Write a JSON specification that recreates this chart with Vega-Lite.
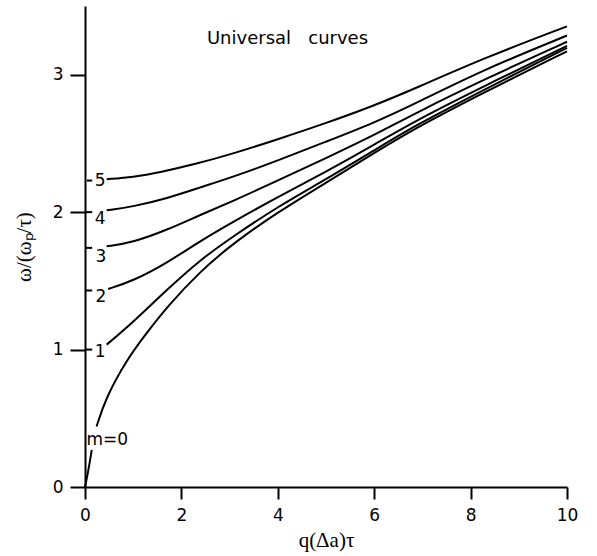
{
  "$schema": "https://vega.github.io/schema/vega-lite/v6.json",
  "width": 482,
  "height": 481,
  "autosize": {"type": "none"},
  "padding": {"left": 85, "top": 6, "right": 30, "bottom": 69},
  "background": "white",
  "config": {
    "view": {"stroke": null},
    "axis": {
      "grid": false,
      "labelFlush": false,
      "domainColor": "black",
      "domainWidth": 2,
      "tickColor": "black",
      "tickWidth": 2,
      "labelColor": "black",
      "labelFont": "DejaVu Sans",
      "labelFontSize": 17,
      "titleFont": "Liberation Serif",
      "titleFontSize": 21,
      "titleFontWeight": "normal",
      "titleColor": "black"
    }
  },
  "datasets": {
    "curves": [
      {"seg": "m0a", "x": 0, "y": 0},
      {"seg": "m0a", "x": 0.06, "y": 0.1},
      {"seg": "m0a", "x": 0.14, "y": 0.27},
      {"seg": "m0b", "x": 0.24, "y": 0.44},
      {"seg": "m0b", "x": 0.42, "y": 0.64},
      {"seg": "m0b", "x": 0.87, "y": 0.93},
      {"seg": "m0b", "x": 1.3, "y": 1.13},
      {"seg": "m0b", "x": 1.7, "y": 1.31},
      {"seg": "m0b", "x": 2.39, "y": 1.57},
      {"seg": "m0b", "x": 3.1, "y": 1.78},
      {"seg": "m0b", "x": 4.0, "y": 2.0},
      {"seg": "m0b", "x": 4.98, "y": 2.21},
      {"seg": "m0b", "x": 6.0, "y": 2.43},
      {"seg": "m0b", "x": 6.85, "y": 2.61},
      {"seg": "m0b", "x": 8.27, "y": 2.87},
      {"seg": "m0b", "x": 10, "y": 3.17},
      {"seg": "m1", "x": 0.45, "y": 1.036},
      {"seg": "m1", "x": 1.0, "y": 1.2},
      {"seg": "m1", "x": 1.7, "y": 1.436},
      {"seg": "m1", "x": 2.39, "y": 1.654},
      {"seg": "m1", "x": 3.1, "y": 1.83},
      {"seg": "m1", "x": 4.0, "y": 2.04},
      {"seg": "m1", "x": 4.98, "y": 2.235},
      {"seg": "m1", "x": 6.0, "y": 2.45},
      {"seg": "m1", "x": 6.85, "y": 2.63},
      {"seg": "m1", "x": 8.27, "y": 2.89},
      {"seg": "m1", "x": 10, "y": 3.195},
      {"seg": "m2", "x": 0.48, "y": 1.441},
      {"seg": "m2", "x": 1.0, "y": 1.5},
      {"seg": "m2", "x": 1.7, "y": 1.63},
      {"seg": "m2", "x": 2.39, "y": 1.79},
      {"seg": "m2", "x": 3.1, "y": 1.935},
      {"seg": "m2", "x": 4.0, "y": 2.11},
      {"seg": "m2", "x": 4.98, "y": 2.29},
      {"seg": "m2", "x": 6.0, "y": 2.49},
      {"seg": "m2", "x": 6.85, "y": 2.665},
      {"seg": "m2", "x": 8.27, "y": 2.916},
      {"seg": "m2", "x": 10, "y": 3.21},
      {"seg": "m3", "x": 0.45, "y": 1.751},
      {"seg": "m3", "x": 1.0, "y": 1.78},
      {"seg": "m3", "x": 1.7, "y": 1.87},
      {"seg": "m3", "x": 2.39, "y": 1.98},
      {"seg": "m3", "x": 3.1, "y": 2.085},
      {"seg": "m3", "x": 4.0, "y": 2.23},
      {"seg": "m3", "x": 4.98, "y": 2.39},
      {"seg": "m3", "x": 6.0, "y": 2.56},
      {"seg": "m3", "x": 6.85, "y": 2.72},
      {"seg": "m3", "x": 8.27, "y": 2.964},
      {"seg": "m3", "x": 10, "y": 3.24},
      {"seg": "m4", "x": 0.45, "y": 2.013},
      {"seg": "m4", "x": 1.0, "y": 2.04},
      {"seg": "m4", "x": 1.7, "y": 2.1},
      {"seg": "m4", "x": 2.39, "y": 2.18},
      {"seg": "m4", "x": 3.1, "y": 2.26},
      {"seg": "m4", "x": 4.0, "y": 2.375},
      {"seg": "m4", "x": 4.98, "y": 2.51},
      {"seg": "m4", "x": 6.0, "y": 2.65},
      {"seg": "m4", "x": 6.85, "y": 2.79},
      {"seg": "m4", "x": 8.27, "y": 3.037},
      {"seg": "m4", "x": 10, "y": 3.285},
      {"seg": "m5", "x": 0.45, "y": 2.24},
      {"seg": "m5", "x": 1.0, "y": 2.255},
      {"seg": "m5", "x": 1.56, "y": 2.29},
      {"seg": "m5", "x": 2.3, "y": 2.35},
      {"seg": "m5", "x": 3.11, "y": 2.43},
      {"seg": "m5", "x": 4.0, "y": 2.53},
      {"seg": "m5", "x": 4.98, "y": 2.645},
      {"seg": "m5", "x": 6.0, "y": 2.775},
      {"seg": "m5", "x": 6.85, "y": 2.9},
      {"seg": "m5", "x": 8.27, "y": 3.12},
      {"seg": "m5", "x": 10, "y": 3.352}
    ],
    "dashes": [
      {"x": 0, "x2": 0.15, "y": 1.0},
      {"x": 0, "x2": 0.15, "y": 1.43},
      {"x": 0, "x2": 0.15, "y": 1.74},
      {"x": 0, "x2": 0.15, "y": 2.0},
      {"x": 0.04, "x2": 0.15, "y": 2.23}
    ],
    "labels": [
      {"x": 0.2, "y": 2.225, "label": "5"},
      {"x": 0.2, "y": 1.95, "label": "4"},
      {"x": 0.22, "y": 1.67, "label": "3"},
      {"x": 0.22, "y": 1.38, "label": "2"},
      {"x": 0.2, "y": 0.98, "label": "1"},
      {"x": 0.03, "y": 0.345, "label": "m=0"}
    ],
    "heading": [
      {"x": 2.53, "y": 3.26, "label": "Universal\u00a0\u00a0 curves"}
    ]
  },
  "layer": [
    {
      "data": {"name": "curves"},
      "mark": {"type": "line", "color": "black", "strokeWidth": 2, "interpolate": "basis"},
      "encoding": {
        "x": {
          "field": "x", "type": "quantitative",
          "scale": {"domain": [0, 10], "nice": false},
          "axis": {"values": [0, 2, 4, 6, 8, 10], "format": "d", "tickSize": 12, "labelPadding": 8, "titlePadding": 6, "title": "q(Δa)τ"}
        },
        "y": {
          "field": "y", "type": "quantitative",
          "scale": {"domain": [0, 3.5], "nice": false},
          "axis": {"values": [0, 1, 2, 3], "format": "d", "tickSize": 15, "labelPadding": 7, "titlePadding": 18, "title": "ω/(ωₚ/τ)"}
        },
        "detail": {"field": "seg", "type": "nominal"}
      }
    },
    {
      "data": {"name": "dashes"},
      "mark": {"type": "rule", "color": "black", "strokeWidth": 2},
      "encoding": {
        "x": {"field": "x", "type": "quantitative"},
        "x2": {"field": "x2"},
        "y": {"field": "y", "type": "quantitative"}
      }
    },
    {
      "data": {"name": "labels"},
      "mark": {"type": "text", "align": "left", "baseline": "middle", "font": "DejaVu Sans", "fontSize": 17, "color": "black"},
      "encoding": {
        "x": {"field": "x", "type": "quantitative"},
        "y": {"field": "y", "type": "quantitative"},
        "text": {"field": "label"}
      }
    },
    {
      "data": {"name": "heading"},
      "mark": {"type": "text", "align": "left", "baseline": "middle", "font": "DejaVu Sans", "fontSize": 18, "color": "black"},
      "encoding": {
        "x": {"field": "x", "type": "quantitative"},
        "y": {"field": "y", "type": "quantitative"},
        "text": {"field": "label"}
      }
    }
  ]
}
